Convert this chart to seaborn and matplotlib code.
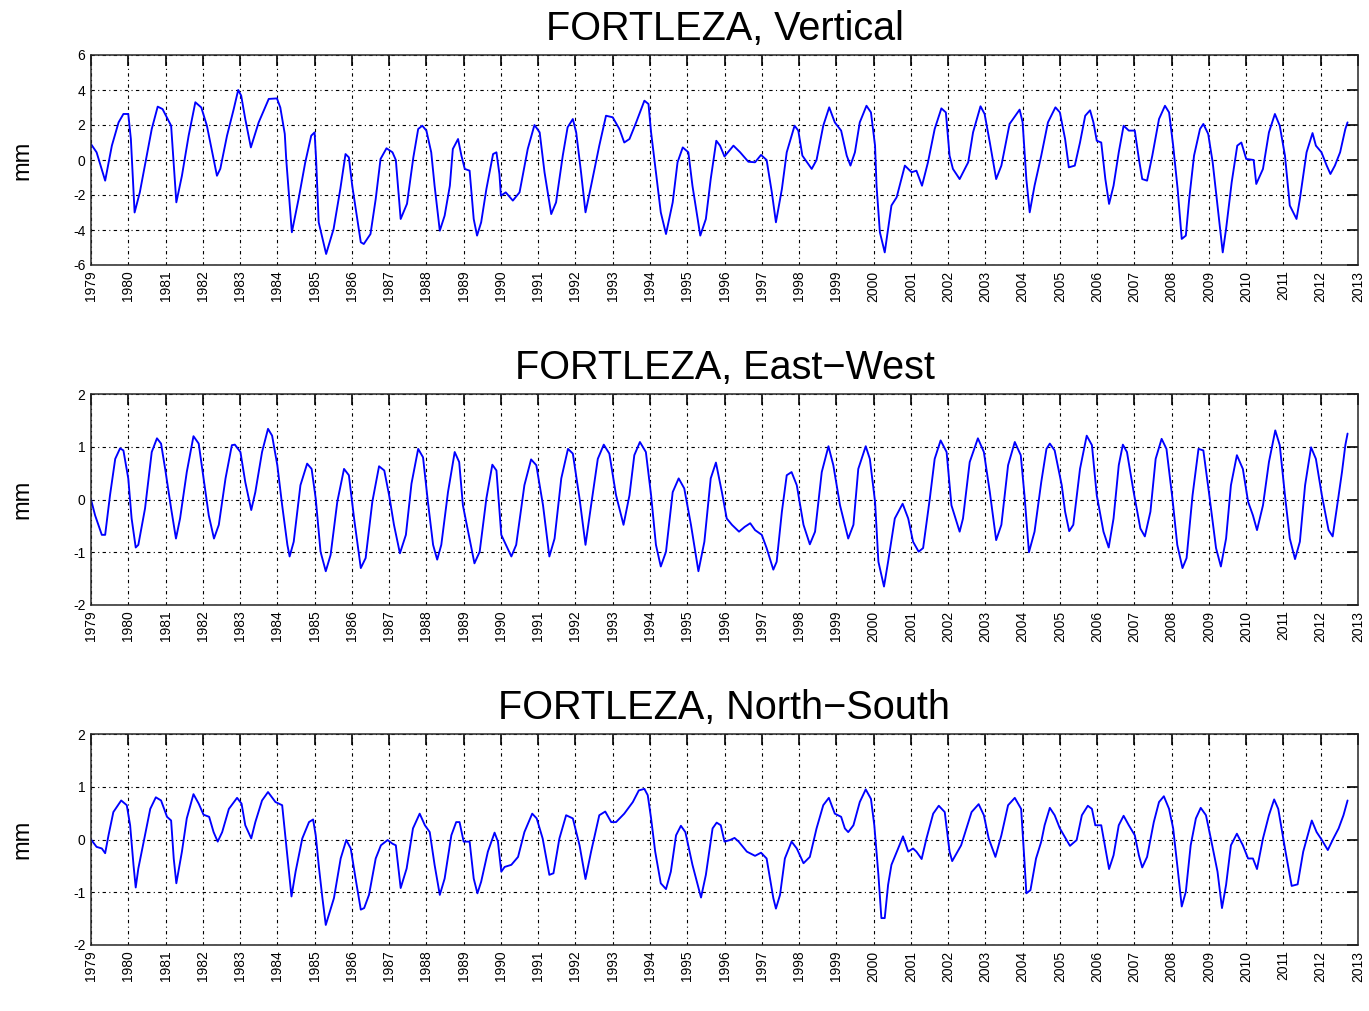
import numpy as np
import pandas as pd
import matplotlib
matplotlib.use("Agg")
import matplotlib.pyplot as plt
import seaborn as sns

# ---------------- data ----------------
vert_t = [1979.0, 1979.15, 1979.38, 1979.56, 1979.74, 1979.87, 1980.0, 1980.07, 1980.17, 1980.31,
          1980.63, 1980.79, 1980.92, 1981.15, 1981.29, 1981.44, 1981.62, 1981.8, 1981.96, 1982.11,
          1982.38, 1982.47, 1982.65, 1982.83, 1982.95, 1983.03, 1983.14, 1983.29, 1983.5, 1983.77,
          1983.99, 1984.08, 1984.2, 1984.24, 1984.39, 1984.57, 1984.75, 1984.91, 1985.0, 1985.04,
          1985.11, 1985.31, 1985.51, 1985.69, 1985.83, 1985.92, 1986.01, 1986.24, 1986.32, 1986.5,
          1986.64, 1986.77, 1986.93, 1987.09, 1987.18, 1987.31, 1987.48, 1987.65, 1987.78, 1987.89,
          1988.0, 1988.13, 1988.22, 1988.36, 1988.49, 1988.63, 1988.71, 1988.85, 1988.94, 1989.03,
          1989.16, 1989.27, 1989.36, 1989.47, 1989.61, 1989.79, 1989.88, 1989.96, 1990.0, 1990.13,
          1990.32, 1990.5, 1990.72, 1990.9, 1991.04, 1991.17, 1991.35, 1991.48, 1991.66, 1991.79,
          1991.93, 1992.02, 1992.15, 1992.27, 1992.42, 1992.64, 1992.82, 1993.0, 1993.18, 1993.31,
          1993.45, 1993.63, 1993.85, 1993.96, 1994.03, 1994.16, 1994.29, 1994.43, 1994.61, 1994.74,
          1994.88, 1995.03, 1995.14, 1995.35, 1995.5, 1995.63, 1995.78, 1995.88, 1996.0, 1996.24,
          1996.42, 1996.64, 1996.82, 1996.98, 1997.13, 1997.27, 1997.38, 1997.54, 1997.67, 1997.88,
          1997.98, 1998.09, 1998.34, 1998.47, 1998.65, 1998.81, 1998.96, 1999.13, 1999.28, 1999.38,
          1999.5, 1999.63, 1999.81, 1999.93, 2000.04, 2000.08, 2000.17, 2000.3, 2000.39, 2000.48,
          2000.62, 2000.84, 2001.02, 2001.15, 2001.3, 2001.46, 2001.64, 2001.82, 2001.94, 2002.04,
          2002.13, 2002.31, 2002.54, 2002.67, 2002.87, 2002.98, 2003.12, 2003.29, 2003.43, 2003.65,
          2003.92, 2004.0, 2004.1, 2004.19, 2004.32, 2004.5, 2004.68, 2004.88, 2005.0, 2005.14,
          2005.24, 2005.4, 2005.54, 2005.68, 2005.81, 2005.9, 2005.99, 2006.11, 2006.22, 2006.32,
          2006.44, 2006.58, 2006.71, 2006.85, 2007.01, 2007.12, 2007.21, 2007.34, 2007.48, 2007.66,
          2007.82, 2007.93, 2008.04, 2008.16, 2008.27, 2008.38, 2008.47, 2008.6, 2008.76, 2008.85,
          2008.98, 2009.1, 2009.25, 2009.37, 2009.46, 2009.61, 2009.76, 2009.87, 2010.0, 2010.2,
          2010.27, 2010.45, 2010.61, 2010.77, 2010.9, 2011.04, 2011.17, 2011.35, 2011.44, 2011.62,
          2011.78, 2011.87, 2012.02, 2012.16, 2012.26, 2012.38, 2012.52, 2012.66, 2012.72]
vert_v = [0.91, 0.44, -1.18, 0.82, 2.15, 2.63, 2.63, 1.2, -3.0, -1.85,
          1.77, 3.05, 2.91, 1.96, -2.42, -0.9, 1.39, 3.3, 3.0, 1.96,
          -0.9, -0.5, 1.39, 2.91, 4.0, 3.68, 2.34, 0.72, 2.15, 3.49,
          3.52, 3.0, 1.49, 0.0, -4.13, -2.23, -0.13, 1.39, 1.58, 0.06,
          -3.56, -5.37, -3.94, -1.66, 0.34, 0.15, -1.47, -4.7, -4.8, -4.23,
          -2.23, 0.06, 0.67, 0.44, 0.0, -3.37, -2.5, 0.15, 1.77, 1.96,
          1.68, 0.44, -1.47, -4.04, -3.18, -1.47, 0.63, 1.2, 0.25, -0.51,
          -0.61, -3.37, -4.32, -3.56, -1.66, 0.34, 0.44, -0.8, -2.04, -1.85,
          -2.32, -1.85, 0.63, 2.0, 1.58, -0.7, -3.09, -2.42, 0.25, 1.87,
          2.34, 1.58, -0.7, -2.99, -1.47, 0.82, 2.53, 2.44, 1.77, 1.0,
          1.2, 2.15, 3.39, 3.2, 1.58, -0.7, -2.99, -4.23, -2.42, -0.13,
          0.72, 0.44, -1.47, -4.32, -3.37, -1.09, 1.1, 0.82, 0.2, 0.82,
          0.44, -0.1, -0.13, 0.29, 0.0, -1.85, -3.56, -1.66, 0.44, 1.96,
          1.68, 0.25, -0.51, 0.0, 1.96, 3.01, 2.15, 1.68, 0.25, -0.32,
          0.44, 2.15, 3.1, 2.72, 0.82, -1.47, -4.13, -5.28, -3.94, -2.6,
          -2.13, -0.32, -0.7, -0.61, -1.47, -0.13, 1.77, 2.95, 2.72, 0.25,
          -0.51, -1.09, -0.13, 1.58, 3.07, 2.63, 1.0, -1.09, -0.32, 2.06,
          2.88, 2.15, -1.09, -2.99, -1.47, 0.25, 2.15, 3.01, 2.72, 1.2,
          -0.42, -0.32, 1.0, 2.53, 2.84, 2.15, 1.1, 1.0, -1.09, -2.51,
          -1.47, 0.44, 1.96, 1.68, 1.68, 0.06, -1.09, -1.18, 0.25, 2.34,
          3.1, 2.72, 0.82, -1.66, -4.51, -4.32, -2.23, 0.25, 1.77, 2.06,
          1.49, -0.13, -2.99, -5.28, -3.94, -1.28, 0.82, 1.0, 0.06, 0.0,
          -1.37, -0.51, 1.58, 2.63, 1.96, 0.25, -2.6, -3.37, -2.23, 0.44,
          1.54, 0.82, 0.44, -0.32, -0.8, -0.32, 0.44, 1.77, 2.15]

ew_t = [1979.0, 1979.11, 1979.29, 1979.38, 1979.51, 1979.65, 1979.78, 1979.87, 1980.0, 1980.09,
        1980.2, 1980.27, 1980.45, 1980.63, 1980.77, 1980.88, 1980.99, 1981.15, 1981.28, 1981.39,
        1981.57, 1981.75, 1981.89, 1982.02, 1982.16, 1982.3, 1982.43, 1982.61, 1982.78, 1982.86,
        1983.01, 1983.14, 1983.3, 1983.41, 1983.59, 1983.75, 1983.86, 1984.0, 1984.13, 1984.27,
        1984.33, 1984.44, 1984.62, 1984.8, 1984.92, 1985.03, 1985.16, 1985.3, 1985.43, 1985.61,
        1985.79, 1985.92, 1986.06, 1986.24, 1986.37, 1986.55, 1986.73, 1986.87, 1987.0, 1987.13,
        1987.29, 1987.45, 1987.6, 1987.78, 1987.91, 1988.04, 1988.18, 1988.29, 1988.4, 1988.58,
        1988.76, 1988.88, 1988.98, 1989.12, 1989.29, 1989.43, 1989.61, 1989.77, 1989.88, 1990.01,
        1990.28, 1990.41, 1990.63, 1990.81, 1990.95, 1991.13, 1991.3, 1991.44, 1991.62, 1991.8,
        1991.93, 1992.11, 1992.27, 1992.42, 1992.6, 1992.76, 1992.91, 1993.09, 1993.29, 1993.45,
        1993.58, 1993.73, 1993.89, 1994.03, 1994.16, 1994.29, 1994.43, 1994.61, 1994.77, 1994.92,
        1995.1, 1995.3, 1995.46, 1995.63, 1995.77, 1995.93, 1996.06, 1996.2, 1996.39, 1996.54,
        1996.69, 1996.82, 1997.0, 1997.13, 1997.31, 1997.4, 1997.54, 1997.67, 1997.8, 1997.94,
        1998.12, 1998.29, 1998.43, 1998.61, 1998.79, 1998.92, 1999.1, 1999.32, 1999.46, 1999.59,
        1999.79, 1999.9, 2000.04, 2000.13, 2000.28, 2000.39, 2000.57, 2000.78, 2000.93, 2001.06,
        2001.21, 2001.33, 2001.51, 2001.64, 2001.8, 2001.96, 2002.09, 2002.31, 2002.4, 2002.58,
        2002.8, 2002.96, 2003.12, 2003.29, 2003.43, 2003.61, 2003.79, 2003.95, 2004.05, 2004.17,
        2004.32, 2004.5, 2004.64, 2004.73, 2004.86, 2005.05, 2005.14, 2005.25, 2005.36, 2005.54,
        2005.72, 2005.86, 2005.99, 2006.17, 2006.31, 2006.44, 2006.58, 2006.69, 2006.8, 2006.98,
        2007.16, 2007.28, 2007.43, 2007.57, 2007.73, 2007.86, 2008.02, 2008.15, 2008.29, 2008.4,
        2008.56, 2008.72, 2008.85, 2009.01, 2009.19, 2009.32, 2009.46, 2009.59, 2009.75, 2009.91,
        2010.05, 2010.18, 2010.29, 2010.45, 2010.61, 2010.78, 2010.9, 2011.04, 2011.17, 2011.31,
        2011.44, 2011.58, 2011.74, 2011.87, 2012.03, 2012.21, 2012.32, 2012.43, 2012.57, 2012.66,
        2012.72]
ew_v = [0.0, -0.3, -0.67, -0.67, 0.08, 0.77, 0.97, 0.93, 0.4, -0.36,
        -0.91, -0.86, -0.17, 0.9, 1.16, 1.06, 0.58, -0.17, -0.74, -0.36,
        0.52, 1.2, 1.06, 0.4, -0.3, -0.74, -0.48, 0.4, 1.03, 1.04,
        0.9, 0.33, -0.2, 0.14, 0.9, 1.34, 1.21, 0.65, -0.11, -0.86,
        -1.08, -0.8, 0.27, 0.68, 0.58, 0.02, -0.99, -1.36, -1.05, -0.04,
        0.58, 0.46, -0.36, -1.3, -1.11, -0.04, 0.63, 0.55, 0.08, -0.48,
        -1.02, -0.67, 0.3, 0.96, 0.8, -0.04, -0.86, -1.14, -0.86, 0.14,
        0.9, 0.71, -0.11, -0.61, -1.21, -0.99, 0.02, 0.66, 0.55, -0.67,
        -1.08, -0.86, 0.27, 0.76, 0.65, -0.11, -1.08, -0.74, 0.4, 0.96,
        0.87, 0.02, -0.86, -0.11, 0.77, 1.04, 0.87, 0.08, -0.48, 0.08,
        0.84, 1.09, 0.9, 0.08, -0.86, -1.27, -0.99, 0.14, 0.4, 0.21,
        -0.48, -1.36, -0.8, 0.4, 0.7, 0.14, -0.36, -0.48, -0.61, -0.52,
        -0.45, -0.58, -0.67, -0.92, -1.33, -1.18, -0.23, 0.46, 0.52, 0.27,
        -0.48, -0.85, -0.61, 0.52, 1.01, 0.65, -0.11, -0.74, -0.48, 0.58,
        1.01, 0.77, -0.04, -1.18, -1.65, -1.18, -0.36, -0.08, -0.36, -0.8,
        -0.99, -0.92, 0.02, 0.77, 1.12, 0.9, -0.11, -0.61, -0.36, 0.71,
        1.16, 0.9, 0.14, -0.77, -0.48, 0.65, 1.09, 0.84, 0.08, -1.0,
        -0.61, 0.33, 0.96, 1.06, 0.93, 0.27, -0.23, -0.6, -0.48, 0.58,
        1.21, 1.03, 0.08, -0.61, -0.91, -0.36, 0.65, 1.04, 0.9, 0.14,
        -0.55, -0.7, -0.23, 0.77, 1.15, 0.96, 0.02, -0.86, -1.3, -1.11,
        0.08, 0.96, 0.93, 0.08, -0.92, -1.27, -0.74, 0.27, 0.84, 0.58,
        -0.04, -0.3, -0.58, -0.11, 0.71, 1.31, 1.03, 0.08, -0.74, -1.13,
        -0.8, 0.27, 0.99, 0.77, 0.08, -0.58, -0.7, -0.17, 0.52, 1.03,
        1.25]

ns_t = [1979.0, 1979.15, 1979.29, 1979.38, 1979.47, 1979.6, 1979.81, 1979.96, 1980.05, 1980.14,
        1980.2, 1980.27, 1980.45, 1980.59, 1980.74, 1980.88, 1981.04, 1981.15, 1981.22, 1981.29,
        1981.44, 1981.57, 1981.75, 1981.89, 1982.02, 1982.17, 1982.29, 1982.4, 1982.52, 1982.7,
        1982.92, 1983.04, 1983.14, 1983.3, 1983.41, 1983.59, 1983.75, 1983.95, 1984.13, 1984.22,
        1984.38, 1984.49, 1984.67, 1984.85, 1984.96, 1985.03, 1985.12, 1985.21, 1985.3, 1985.52,
        1985.7, 1985.85, 1985.97, 1986.1, 1986.24, 1986.33, 1986.46, 1986.64, 1986.78, 1986.96,
        1987.09, 1987.18, 1987.31, 1987.47, 1987.64, 1987.82, 1987.96, 1988.09, 1988.22, 1988.36,
        1988.49, 1988.67, 1988.8, 1988.89, 1989.0, 1989.16, 1989.27, 1989.37, 1989.47, 1989.65,
        1989.83, 1989.92, 1990.01, 1990.1, 1990.28, 1990.46, 1990.63, 1990.84, 1990.96, 1991.12,
        1991.3, 1991.41, 1991.57, 1991.75, 1991.93, 1992.11, 1992.27, 1992.42, 1992.64, 1992.8,
        1992.96, 1993.09, 1993.31, 1993.54, 1993.7, 1993.85, 1993.94, 1994.03, 1994.14, 1994.29,
        1994.43, 1994.56, 1994.7, 1994.83, 1994.95, 1995.14, 1995.37, 1995.5, 1995.68, 1995.79,
        1995.9, 1996.0, 1996.15, 1996.27, 1996.38, 1996.6, 1996.82, 1996.98, 1997.13, 1997.22,
        1997.31, 1997.38, 1997.49, 1997.62, 1997.8, 1997.94, 1998.12, 1998.29, 1998.47, 1998.65,
        1998.8, 1998.96, 1999.13, 1999.23, 1999.32, 1999.46, 1999.63, 1999.79, 1999.93, 2000.02,
        2000.13, 2000.21, 2000.3, 2000.39, 2000.48, 2000.66, 2000.79, 2000.93, 2001.06, 2001.15,
        2001.29, 2001.42, 2001.6, 2001.75, 2001.91, 2002.04, 2002.11, 2002.35, 2002.63, 2002.82,
        2002.96, 2003.09, 2003.27, 2003.43, 2003.61, 2003.79, 2003.96, 2004.05, 2004.1, 2004.21,
        2004.36, 2004.5, 2004.59, 2004.73, 2004.86, 2005.0, 2005.27, 2005.45, 2005.59, 2005.75,
        2005.86, 2005.95, 2006.11, 2006.22, 2006.32, 2006.44, 2006.58, 2006.71, 2006.85, 2007.01,
        2007.12, 2007.21, 2007.34, 2007.52, 2007.66, 2007.79, 2007.93, 2008.04, 2008.16, 2008.27,
        2008.38, 2008.51, 2008.65, 2008.78, 2008.92, 2009.05, 2009.23, 2009.35, 2009.46, 2009.59,
        2009.75, 2009.91, 2010.05, 2010.18, 2010.29, 2010.45, 2010.61, 2010.75, 2010.86, 2011.04,
        2011.22, 2011.38, 2011.53, 2011.76, 2011.89, 2012.03, 2012.19, 2012.34, 2012.48, 2012.61,
        2012.72]
ns_v = [0.0, -0.14, -0.17, -0.26, 0.08, 0.52, 0.74, 0.65, 0.27, -0.48,
        -0.91, -0.55, 0.08, 0.58, 0.8, 0.74, 0.43, 0.36, -0.36, -0.83,
        -0.23, 0.4, 0.86, 0.68, 0.47, 0.43, 0.14, -0.04, 0.14, 0.58,
        0.79, 0.68, 0.27, 0.02, 0.33, 0.74, 0.9, 0.71, 0.65, 0.02,
        -1.08, -0.61, 0.02, 0.33, 0.38, 0.08, -0.55, -1.11, -1.62, -1.11,
        -0.36, -0.01, -0.17, -0.74, -1.33, -1.3, -1.05, -0.36, -0.11, -0.01,
        -0.08, -0.11, -0.92, -0.55, 0.21, 0.49, 0.27, 0.14, -0.48, -1.05,
        -0.74, 0.08, 0.33, 0.33, -0.04, -0.04, -0.74, -1.02, -0.8, -0.23,
        0.13, -0.04, -0.61, -0.52, -0.48, -0.33, 0.14, 0.49, 0.4, 0.02,
        -0.67, -0.64, 0.02, 0.46, 0.4, -0.11, -0.75, -0.23, 0.46, 0.53,
        0.33, 0.33, 0.49, 0.71, 0.93, 0.96, 0.84, 0.4, -0.23, -0.83,
        -0.94, -0.61, 0.08, 0.26, 0.14, -0.48, -1.1, -0.67, 0.21, 0.32,
        0.27, -0.04, -0.01, 0.03, -0.04, -0.23, -0.31, -0.25, -0.36, -0.74,
        -1.11, -1.31, -1.05, -0.36, -0.04, -0.17, -0.45, -0.33, 0.21, 0.65,
        0.79, 0.49, 0.43, 0.21, 0.14, 0.27, 0.71, 0.95, 0.77, 0.27,
        -0.67, -1.49, -1.49, -0.86, -0.48, -0.17, 0.06, -0.23, -0.17, -0.23,
        -0.37, 0.02, 0.49, 0.64, 0.52, -0.23, -0.41, -0.11, 0.52, 0.67,
        0.46, 0.02, -0.33, 0.08, 0.65, 0.79, 0.58, -0.42, -1.02, -0.96,
        -0.36, -0.04, 0.27, 0.6, 0.46, 0.21, -0.12, -0.01, 0.46, 0.64,
        0.58, 0.27, 0.27, -0.17, -0.56, -0.3, 0.27, 0.45, 0.27, 0.08,
        -0.3, -0.53, -0.33, 0.33, 0.71, 0.82, 0.58, 0.21, -0.55, -1.27,
        -0.99, -0.11, 0.4, 0.6, 0.46, 0.02, -0.61, -1.3, -0.86, -0.11,
        0.11, -0.11, -0.36, -0.36, -0.56, 0.02, 0.46, 0.76, 0.58, -0.17,
        -0.88, -0.85, -0.23, 0.36, 0.14, -0.01, -0.2, 0.02, 0.21, 0.46,
        0.74]

titles = ["FORTLEZA, Vertical", "FORTLEZA, East\u2212West", "FORTLEZA, North\u2212South"]
ylims = [(-6, 6), (-2, 2), (-2, 2)]
yticks = [[-6, -4, -2, 0, 2, 4, 6], [-2, -1, 0, 1, 2], [-2, -1, 0, 1, 2]]
year_ticks = list(range(1979, 2014))
ylabel = "mm"

# ---------------- style ----------------
sns.set_theme(style="white")
plt.rcParams['font.family'] = ['Liberation Sans', 'DejaVu Sans']
plt.rcParams['axes.unicode_minus'] = False
plt.rcParams['text.color'] = 'black'
plt.rcParams['axes.labelcolor'] = 'black'
plt.rcParams['xtick.color'] = 'black'
plt.rcParams['ytick.color'] = 'black'

fig = plt.figure(figsize=(13.69, 10.11), dpi=100)
W, H = 1369, 1011
left, right = 91, 1358
boxes = [(55, 265), (394, 605), (734, 945)]

series = [(vert_t, vert_v), (ew_t, ew_v), (ns_t, ns_v)]
for i, ((top, bot), (tt, vv)) in enumerate(zip(boxes, series)):
    ax = fig.add_axes([left / W, 1 - bot / H, (right - left) / W, (bot - top) / H])
    df = pd.DataFrame({"year": tt, "value": vv})
    sns.lineplot(data=df, x="year", y="value", ax=ax, color="#0000ff",
                 linewidth=1.35, estimator=None, sort=False)
    ax.set_xlim(1979, 2013)
    ax.set_ylim(*ylims[i])
    ax.set_xticks(year_ticks)
    ax.set_xticklabels([str(y) for y in year_ticks], rotation=90, fontsize=10)
    ax.set_yticks(yticks[i])
    ax.set_yticklabels([str(v) for v in yticks[i]], fontsize=10)
    ax.grid(True, color="black", linestyle=(0, (3, 3, 1, 3)), linewidth=0.8)
    ax.tick_params(direction="in", length=8, width=1.2, top=True, right=True,
                   colors="black", pad=4)
    for s in ax.spines.values():
        s.set_color("#262626")
        s.set_linewidth(1.1)
    ax.set_title(titles[i], fontsize=28.5, pad=11, color="black")
    ax.set_xlabel("")
    ax.set_ylabel(ylabel, fontsize=17, color="black")
    ax.yaxis.label.set_va("center")
    ax.yaxis.set_label_coords(-0.054, 0.5)

fig.savefig("out.png", dpi=100)
